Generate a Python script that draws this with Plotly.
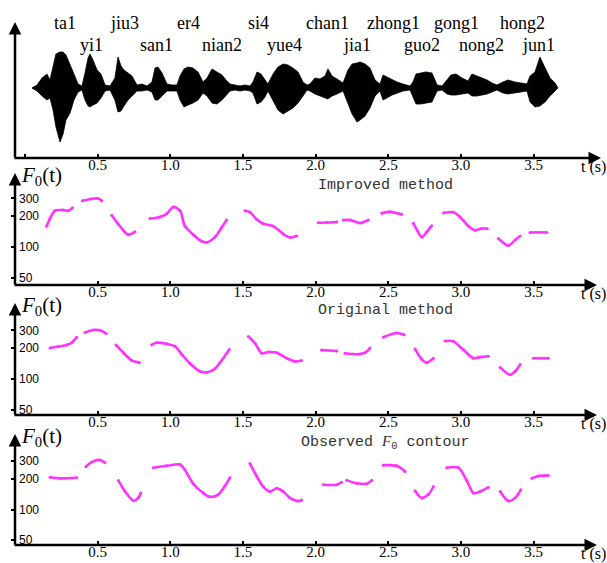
import plotly.graph_objects as go

# ---------------------------------------------------------------- data
# time axis ticks (seconds)
tick_vals = [0, 0.5, 1.0, 1.5, 2.0, 2.5, 3.0, 3.5]
tick_text = ["", "0.5", "1.0", "1.5", "2.0", "2.5", "3.0", "3.5"]
f0_tick_vals = [50, 100, 200, 300]

# pinyin syllables, two staggered rows, with their centre times (s)
syl_upper = ["ta1", "jiu3", "er4", "si4", "chan1", "zhong1", "gong1", "hong2"]
syl_upper_t = [0.275, 0.688, 1.122, 1.604, 2.085, 2.533, 2.973, 3.427]
syl_lower = ["yi1", "san1", "nian2", "yue4", "jia1", "guo2", "nong2", "jun1"]
syl_lower_t = [0.461, 0.908, 1.356, 1.789, 2.285, 2.732, 3.145, 3.531]

# speech waveform envelope (arbitrary amplitude units)
wave_t = [0.048, 0.083, 0.117, 0.151, 0.172, 0.193, 0.213, 0.241, 0.262, 0.282,
          0.310, 0.337, 0.365, 0.392, 0.413, 0.434, 0.447, 0.468, 0.496, 0.523,
          0.551, 0.585, 0.619, 0.640, 0.661, 0.681, 0.709, 0.736, 0.771, 0.805,
          0.840, 0.874, 0.895, 0.915, 0.943, 0.977, 1.012, 1.046, 1.067, 1.094,
          1.122, 1.156, 1.191, 1.225, 1.253, 1.287, 1.321, 1.356, 1.383, 1.411,
          1.445, 1.480, 1.514, 1.549, 1.569, 1.597, 1.624, 1.652, 1.672, 1.707,
          1.741, 1.776, 1.810, 1.844, 1.879, 1.913, 1.941, 1.961, 1.996, 2.030,
          2.065, 2.085, 2.113, 2.147, 2.189, 2.223, 2.251, 2.285, 2.306, 2.340,
          2.374, 2.409, 2.443, 2.464, 2.491, 2.526, 2.560, 2.602, 2.650, 2.670,
          2.691, 2.725, 2.760, 2.801, 2.836, 2.870, 2.904, 2.932, 2.966, 3.008,
          3.049, 3.076, 3.111, 3.145, 3.180, 3.214, 3.248, 3.290, 3.324, 3.372,
          3.414, 3.455, 3.476, 3.510, 3.544, 3.579, 3.613, 3.648, 3.668]
wave_pos = [0, 3, 10, 14, 8, 22, 34, 36, 36, 33,
            24, 14, 4, 2, 15, 30, 34, 28, 18, 14,
            3, 2, 10, 31, 22, 18, 15, 12, 3, 4,
            2, 6, 20, 21, 15, 4, 3, 3, 12, 19,
            21, 20, 16, 6, 10, 19, 16, 13, 8, 4,
            3, 2, 3, 2, 6, 16, 14, 8, 4, 14,
            21, 24, 23, 20, 16, 6, 3, 4, 10, 9,
            12, 19, 12, 9, 5, 18, 24, 25, 26, 24,
            20, 8, 4, 13, 11, 9, 6, 4, 2, 6,
            14, 15, 16, 15, 3, 2, 8, 13, 14, 10,
            7, 14, 12, 10, 8, 5, 3, 6, 8, 6,
            5, 4, 12, 16, 31, 20, 10, 5, 0]
wave_neg = [0, 3, 8, 12, 10, 22, 39, 54, 46, 32,
            25, 12, 4, 2, 12, 18, 19, 17, 15, 10,
            3, 2, 12, 24, 23, 18, 12, 8, 3, 3,
            2, 4, 12, 12, 8, 3, 3, 3, 12, 19,
            17, 15, 12, 5, 8, 15, 16, 12, 8, 3,
            2, 3, 2, 3, 5, 16, 14, 9, 3, 12,
            22, 26, 23, 20, 15, 8, 2, 3, 6, 8,
            10, 11, 8, 6, 3, 15, 26, 34, 32, 28,
            20, 8, 3, 12, 10, 7, 5, 3, 2, 8,
            16, 16, 15, 14, 3, 2, 6, 7, 7, 6,
            5, 8, 8, 7, 6, 4, 2, 5, 6, 5,
            4, 3, 14, 19, 18, 14, 8, 3, 0]

# F0 contours (Hz), one list per voiced segment
improved_t = [[0.149, 0.172, 0.206, 0.264, 0.298, 0.328],
              [0.395, 0.453, 0.499, 0.528],
              [0.597, 0.643, 0.689, 0.712, 0.757],
              [0.860, 0.929, 0.975, 1.021, 1.067, 1.101, 1.158, 1.216, 1.250, 1.307, 1.353, 1.388],
              [1.514, 1.548, 1.594, 1.640, 1.709, 1.778, 1.824, 1.870],
              [2.018, 2.080, 2.145],
              [2.191, 2.237, 2.306, 2.363],
              [2.455, 2.512, 2.593],
              [2.673, 2.700, 2.730, 2.765, 2.799],
              [2.880, 2.948, 2.994, 3.052, 3.098, 3.143, 3.182],
              [3.258, 3.327, 3.373, 3.408],
              [3.476, 3.591]]
improved_f0 = [[160, 190, 227, 230, 227, 243],
               [284, 296, 300, 284],
               [205, 167, 139, 132, 141],
               [190, 197, 212, 247, 227, 160, 132, 114, 111, 125, 155, 184],
               [227, 220, 187, 169, 160, 134, 124, 128],
               [173, 174, 176],
               [184, 184, 172, 184],
               [214, 221, 209],
               [171, 145, 125, 140, 162],
               [216, 219, 197, 160, 146, 152, 151],
               [121, 103, 117, 128],
               [139, 139]]

original_t = [[0.172, 0.230, 0.287, 0.321, 0.356],
              [0.413, 0.470, 0.516, 0.557],
              [0.626, 0.677, 0.734, 0.787],
              [0.872, 0.906, 0.975, 1.032, 1.078, 1.135, 1.204, 1.250, 1.307, 1.353, 1.406],
              [1.537, 1.583, 1.629, 1.675, 1.732, 1.801, 1.858, 1.904],
              [2.041, 2.145],
              [2.202, 2.294, 2.340, 2.375],
              [2.466, 2.558, 2.609],
              [2.684, 2.730, 2.765, 2.811],
              [2.891, 2.948, 3.017, 3.086, 3.132, 3.189],
              [3.270, 3.339, 3.373, 3.408],
              [3.499, 3.602]]
original_f0 = [[201, 208, 216, 227, 257],
               [286, 302, 300, 280],
               [216, 181, 152, 145],
               [216, 227, 221, 209, 175, 142, 119, 116, 126, 152, 195],
               [261, 224, 179, 184, 181, 160, 149, 152],
               [192, 188],
               [179, 175, 181, 201],
               [257, 282, 272],
               [197, 156, 145, 160],
               [236, 234, 193, 160, 164, 167],
               [130, 110, 119, 139],
               [160, 160]]

observed_t = [[0.172, 0.241, 0.356],
              [0.419, 0.458, 0.516, 0.550],
              [0.643, 0.689, 0.746, 0.781, 0.797],
              [0.883, 0.975, 1.067, 1.101, 1.158, 1.227, 1.273, 1.330, 1.376, 1.411],
              [1.548, 1.594, 1.640, 1.686, 1.732, 1.778, 1.824, 1.881, 1.904],
              [2.053, 2.145, 2.179],
              [2.214, 2.283, 2.352, 2.386],
              [2.466, 2.558, 2.616],
              [2.684, 2.730, 2.776, 2.811],
              [2.903, 2.983, 3.040, 3.086, 3.132, 3.189],
              [3.270, 3.327, 3.373, 3.412],
              [3.488, 3.534, 3.602]]
observed_f0 = [[207, 202, 205],
               [263, 291, 306, 288],
               [192, 150, 122, 131, 145],
               [257, 268, 276, 244, 179, 145, 133, 140, 170, 205],
               [282, 213, 167, 150, 161, 150, 130, 121, 124],
               [175, 175, 185],
               [193, 181, 179, 193],
               [272, 268, 236],
               [153, 130, 140, 168],
               [257, 257, 192, 145, 150, 165],
               [150, 121, 130, 156],
               [202, 213, 216]]

# ---------------------------------------------------------------- layout constants
W, H = 607, 563
T0_PX, PX_PER_S = 25.0, 145.3          # where t = 0 sits, and seconds -> pixels
X_RANGE = [-T0_PX / PX_PER_S, (W - T0_PX) / PX_PER_S]
AXIS_X_PX = 15                          # vertical axes
ARROW_END_PX = 601                      # tip of the time-axis arrows
PX_PER_DECADE = 102.0
DOMAIN_PAD = 8                          # room below each time axis for the 50 Hz label
SERIF = "Liberation Serif, Times New Roman, serif"
MONO = "Liberation Mono, Courier New, monospace"
SANS = "Liberation Sans, Arial, sans-serif"
MAGENTA = "#ff33ff"


def ypaper(py):
    return 1 - py / H


def xpaper(px):
    return px / W


# waveform panel: axis bottom, arrow tip, baseline (pixels from top)
WAVE_BOTTOM, WAVE_TIP, WAVE_BASE = 158, 22, 88
# F0 panels: axis bottom, arrow tip, row of the 100 Hz tick
F0_PANELS = [
    dict(bottom=285, tip=173, y100=247.0, title="Improved method", title_y=185),
    dict(bottom=415, tip=303, y100=379.0, title="Original method", title_y=310),
    dict(bottom=545, tip=434, y100=509.5,
         title="Observed <span style='font-family:Liberation Serif'><i>F</i></span><sub>0</sub> contour",
         title_y=442),
]

fig = go.Figure()

# ---------------------------------------------------------------- waveform
fig.add_trace(go.Scatter(x=[wave_t[0], wave_t[-1]], y=[0, 0], mode="lines",
                         line=dict(color="#3f8f8f", width=1), xaxis="x", yaxis="y",
                         hoverinfo="skip"))
poly_x = wave_t + wave_t[::-1]
poly_y = wave_pos + [-v for v in wave_neg[::-1]]
fig.add_trace(go.Scatter(x=poly_x, y=poly_y, mode="lines", fill="toself",
                         fillcolor="black", line=dict(color="black", width=0.8),
                         xaxis="x", yaxis="y", hoverinfo="skip"))


def joined(seg_t, seg_f):
    xs, ys = [], []
    for ts, fs in zip(seg_t, seg_f):
        xs += ts + [None]
        ys += fs + [None]
    return xs, ys


for i, (st, sf) in enumerate([(improved_t, improved_f0),
                              (original_t, original_f0),
                              (observed_t, observed_f0)]):
    xs, ys = joined(st, sf)
    fig.add_trace(go.Scatter(x=xs, y=ys, mode="lines+markers",
                             line=dict(color=MAGENTA, width=2.6, shape="spline", smoothing=0.8),
                             marker=dict(color=MAGENTA, size=3),
                             xaxis=f"x{i + 2}", yaxis=f"y{i + 2}", hoverinfo="skip"))

# ---------------------------------------------------------------- axes
xaxis_common = dict(range=X_RANGE, domain=[0, 1], tickvals=tick_vals, ticktext=tick_text,
                    ticks="inside", ticklen=4, tickwidth=1.5, tickcolor="black",
                    showline=False, showgrid=False, zeroline=False, ticklabelstandoff=-4,
                    tickfont=dict(family=SERIF, size=15, color="black"))

layout = dict(width=W, height=H, margin=dict(l=0, r=0, t=0, b=0),
              paper_bgcolor="white", plot_bgcolor="rgba(0,0,0,0)", showlegend=False)

# waveform axes
wave_lo = -(WAVE_BOTTOM - WAVE_BASE)
wave_hi = WAVE_BASE - WAVE_TIP
layout["xaxis"] = dict(xaxis_common, anchor="y")
layout["yaxis"] = dict(domain=[ypaper(WAVE_BOTTOM), ypaper(WAVE_TIP)], range=[wave_lo, wave_hi],
                       anchor="free", position=xpaper(AXIS_X_PX), showticklabels=False,
                       ticks="", showline=False, showgrid=False, zeroline=False)

for i, p in enumerate(F0_PANELS):
    n = i + 2
    low_px = p["bottom"] + DOMAIN_PAD
    lo = 2 - (low_px - p["y100"]) / PX_PER_DECADE
    hi = 2 + (p["y100"] - p["tip"]) / PX_PER_DECADE
    layout[f"xaxis{n}"] = dict(xaxis_common, anchor="free", position=ypaper(p["bottom"]))
    layout[f"yaxis{n}"] = dict(domain=[ypaper(low_px), ypaper(p["tip"])], type="log",
                               range=[lo, hi], anchor="free", position=xpaper(AXIS_X_PX),
                               tickvals=f0_tick_vals, ticks="outside", ticklen=4, tickwidth=2,
                               tickcolor="black", ticklabelposition="inside",
                               showline=False, showgrid=False, zeroline=False,
                               tickfont=dict(family=SANS, size=12, color="black"))

fig.update_layout(**layout)

# ---------------------------------------------------------------- axis lines with arrowheads
annotations = []


def arrow(tip_px, tip_py, tail_px, tail_py):
    annotations.append(dict(x=xpaper(tip_px), y=ypaper(tip_py), xref="paper", yref="paper",
                            ax=tail_px - tip_px, ay=tail_py - tip_py, axref="pixel", ayref="pixel",
                            text="", showarrow=True, arrowhead=2, arrowsize=1.0,
                            arrowwidth=2.5, arrowcolor="black"))


def t_label(axis_py):
    annotations.append(dict(x=xpaper(ARROW_END_PX - 8), y=ypaper(axis_py + 9), xref="paper",
                            yref="paper", text="t (s)", showarrow=False, xanchor="center",
                            yanchor="middle", font=dict(family=SERIF, size=16, color="black")))


arrow(AXIS_X_PX, WAVE_TIP, AXIS_X_PX, WAVE_BOTTOM + 1)
arrow(ARROW_END_PX, WAVE_BOTTOM, AXIS_X_PX - 2, WAVE_BOTTOM)
t_label(WAVE_BOTTOM)

for p in F0_PANELS:
    arrow(AXIS_X_PX, p["tip"], AXIS_X_PX, p["bottom"] + 1)
    arrow(ARROW_END_PX - 4, p["bottom"], AXIS_X_PX - 2, p["bottom"])
    t_label(p["bottom"])
    annotations.append(dict(x=xpaper(19), y=ypaper(p["tip"] + 3), xref="paper", yref="paper",
                            text="<i>F</i><sub>0</sub>(t)", showarrow=False, xanchor="left",
                            yanchor="middle", font=dict(family=SERIF, size=21, color="black")))
    annotations.append(dict(x=xpaper(385), y=ypaper(p["title_y"]), xref="paper", yref="paper",
                            text=p["title"], showarrow=False, xanchor="center", yanchor="middle",
                            font=dict(family=MONO, size=15, color="#333333")))

# syllable labels above the waveform
for names, times, row_py in [(syl_upper, syl_upper_t, 23), (syl_lower, syl_lower_t, 45)]:
    for name, t in zip(names, times):
        annotations.append(dict(x=t, y=ypaper(row_py), xref="x", yref="paper", text=name,
                                showarrow=False, xanchor="center", yanchor="middle",
                                font=dict(family=SERIF, size=18, color="black")))

fig.update_layout(annotations=annotations)

fig.write_html("out.html")
